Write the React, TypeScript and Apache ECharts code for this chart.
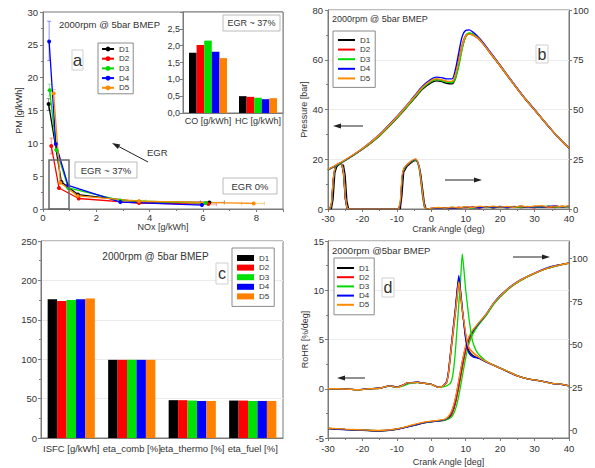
import React, { useEffect, useRef } from 'react';
import * as echarts from 'echarts';

const FONT = "'Liberation Sans', Arial, Helvetica, sans-serif";
const NAMES = ['D1', 'D2', 'D3', 'D4', 'D5'];
const LINE_COLORS = ['#000000', '#ff0000', '#00d800', '#0000ff', '#ff8c00'];
const BAR_COLORS = ['#000000', '#ff0000', '#00e000', '#0000ff', '#ff8000'];

// ---------- Panel a : PM vs NOx ----------
const A_D1 = [[0.21, 16.0], [0.69, 4.1], [1.31, 2.2], [3.6, 1.1], [6.24, 1.0]];
const A_D2 = [[0.31, 9.6], [0.6, 3.2], [1.34, 1.6], [3.6, 0.9], [6.2, 0.75]];
const A_D3 = [[0.25, 18.1], [0.5, 9.0], [0.95, 3.2], [2.9, 1.3], [6.1, 0.9]];
const A_D4 = [[0.23, 25.5], [0.48, 9.9], [0.94, 3.6], [2.9, 1.05], [5.96, 0.6]];
const A_D5 = [[0.4, 17.6], [0.65, 4.0], [1.3, 2.0], [3.6, 1.2], [7.9, 0.85]];
const A_SERIES = [A_D1, A_D2, A_D3, A_D4, A_D5];
const A_X_MAX = 9;
// error bars: [x, yLow, yHigh, seriesIndex] and [y, xLow, xHigh, seriesIndex]
const A_ERR_Y = [[0.23, 22.6, 28.6, 3], [0.25, 17.2, 19.0, 2], [0.21, 15.0, 16.8, 0], [0.31, 8.4, 10.8, 1], [0.4, 17.0, 18.2, 4]];
const A_ERR_X = [[0.85, 7.45, 8.3, 4], [1.0, 5.9, 6.8, 0], [1.2, 3.35, 3.85, 4], [0.75, 5.95, 6.5, 1]];

// inset bars
const INSET_CATS = ['CO [g/kWh]', 'HC [g/kWh]'];
const INSET_D1 = [1.79, 0.5];
const INSET_D2 = [2.02, 0.48];
const INSET_D3 = [2.15, 0.45];
const INSET_D4 = [1.82, 0.41];
const INSET_D5 = [1.63, 0.44];
const INSET_SERIES = [INSET_D1, INSET_D2, INSET_D3, INSET_D4, INSET_D5];

// ---------- Panel b : pressure + injection ----------
const P_ANG = [-30, -25, -20, -15, -10, -7.5, -5, -2.5, 0, 1.5, 3, 4.5, 6, 7, 8, 9, 10, 11, 12, 13.5, 15, 17.5, 20, 22.5, 25, 27.5, 30, 32.5, 35, 37.5, 40];
const P_D1 = [15.7, 19.5, 24, 29.5, 36.5, 40.3, 44.3, 48.2, 50.8, 51.5, 51.2, 50.5, 50.3, 52.5, 58.5, 65, 69.3, 70.3, 70, 68.7, 66.5, 62, 57.5, 52.8, 48.2, 43.8, 39.8, 35.7, 31.6, 27.8, 24.4];
const P_D2 = [15.8, 19.6, 24.1, 29.7, 36.8, 40.6, 44.7, 48.7, 51.4, 52.1, 51.8, 51.2, 51.2, 54, 60, 66.2, 69.8, 70.6, 70.2, 68.8, 66.6, 62.1, 57.6, 52.9, 48.3, 43.9, 39.9, 35.8, 31.7, 27.9, 24.5];
const P_D3 = [15.7, 19.5, 24.1, 29.6, 36.7, 40.5, 44.6, 48.6, 51.3, 52, 51.6, 51, 50.8, 52.5, 57.5, 64.5, 69.5, 70.8, 70.4, 69, 66.8, 62.2, 57.7, 53, 48.4, 44, 40, 35.8, 31.7, 27.9, 24.5];
const P_D4 = [15.8, 19.7, 24.3, 30, 37.2, 41.1, 45.3, 49.4, 52.2, 53, 52.8, 52.3, 52.3, 56, 63, 69.5, 71.8, 72, 71.2, 69.4, 67, 62.4, 57.8, 53.1, 48.5, 44, 40, 35.8, 31.7, 27.9, 24.5];
const P_D5 = [15.9, 19.8, 24.3, 29.9, 37, 40.9, 45, 49, 51.7, 52.4, 52, 51.4, 51.3, 54, 59.5, 65.8, 69.5, 70.3, 70, 68.8, 66.6, 62.1, 57.6, 52.9, 48.3, 43.9, 39.9, 35.8, 31.7, 27.9, 24.5];
const P_SERIES = [P_D1, P_D2, P_D3, P_D4, P_D5];

const I_ANG = [-30, -29.5, -29, -28.5, -28, -27.5, -27, -26.5, -26, -25.5, -25, -24.5, -24, -20, -15, -10, -9.5, -9, -8.5, -8, -7, -6, -5, -4.5, -4, -3.5, -3, -2.5, -2, -1.5, -1, 0, 2, 4, 6, 8, 10, 12, 14, 16, 18, 20, 22, 24, 26, 28, 30, 32, 34, 36, 38, 40];
const I_D1 = [0, 0, 0, 5, 18, 21, 22, 22.5, 22.5, 22, 17, 4, 0, 0, 0, 0, 0, 0, 7, 18.5, 21.5, 23, 24.2, 24.4, 23.6, 21.5, 17, 10, 3, 0, 0, 0.2, 0.4, 0.2, 0.7, 0.4, 0.9, 0.5, 0.8, 1.0, 0.6, 1.1, 0.8, 1.2, 0.7, 1.0, 1.3, 0.9, 1.1, 1.4, 0.9, 1.2];
const I_D2 = [0, 0, 3, 15, 20.5, 22, 22.5, 23, 22.5, 17, 5, 0, 0, 0, 0, 0, 0, 2, 15, 20, 22, 23.5, 24.6, 24.8, 23.8, 20.5, 14, 6, 1, 0, 0, 0.3, 0.3, 0.6, 0.3, 0.9, 0.5, 1.1, 0.4, 1.2, 0.7, 1.0, 0.5, 1.3, 0.8, 1.1, 0.6, 1.4, 1.0, 0.7, 1.5, 1.0];
const I_D3 = [0, 0, 2, 14, 20.5, 22, 22.5, 22.8, 22.4, 18, 6, 0.5, 0, 0, 0, 0, 0, 3, 16, 20.2, 22.2, 23.6, 24.5, 24.6, 23.5, 20, 13.5, 5.5, 0.8, 0, 0, 0.2, 0.5, 0.3, 0.8, 0.6, 0.9, 0.4, 1.1, 0.7, 1.0, 1.2, 0.6, 1.1, 0.9, 1.3, 0.8, 1.2, 1.5, 0.9, 1.3, 1.1];
const I_D4 = [0, 0, 2.5, 14.5, 20.8, 22.2, 22.6, 23, 22.6, 18, 5.5, 0.3, 0, 0, 0, 0, 0, 2.5, 15.5, 20.3, 22.3, 23.8, 24.8, 25, 24, 21, 15, 7, 1.5, 0, 0, 0.3, 0.6, 0.4, 0.7, 0.5, 1.0, 0.8, 0.6, 1.2, 0.9, 1.3, 0.7, 1.0, 1.4, 0.8, 1.2, 1.0, 1.3, 1.6, 1.0, 1.4];
const I_D5 = [0, 0, 3, 15, 21, 22.5, 23, 23, 22.5, 18.5, 6.5, 0.5, 0, 0, 0, 0, 0, 4, 17, 20.5, 22.5, 24, 25, 25.2, 24.2, 21, 15, 7.5, 1.5, 0, 0, 0.4, 0.8, 0.4, 1.0, 0.6, 1.2, 0.7, 1.4, 0.9, 1.5, 1.0, 1.3, 0.8, 1.6, 1.1, 1.4, 1.7, 1.0, 1.5, 1.2, 1.6];
const I_SERIES = [I_D1, I_D2, I_D3, I_D4, I_D5];

// ---------- Panel c : ISFC / efficiencies ----------
const C_CATS = ['ISFC [g/kWh]', 'eta_comb [%]', 'eta_thermo [%]', 'eta_fuel [%]'];
const C_D1 = [176, 99.2, 48, 47.5];
const C_D2 = [174, 99.2, 48, 47.5];
const C_D3 = [175, 99.2, 47.5, 47];
const C_D4 = [176, 99.2, 47, 47];
const C_D5 = [177, 99.2, 47, 47];
const C_SERIES = [C_D1, C_D2, C_D3, C_D4, C_D5];

// ---------- Panel d : RoHR + cumulative ----------
const R_ANG = [-30, -27, -24, -21, -18, -15, -13, -12, -10, -8, -7, -6, -4, -2, 0, 1, 2, 3, 4, 4.5, 5, 5.5, 6, 6.5, 7, 7.5, 8, 8.5, 9, 9.5, 10, 10.5, 11, 12, 13, 14, 16, 18, 20, 22, 25, 28, 30, 33, 35, 38, 40];
const R_D1 = [0, 0, -0.04, -0.09, 0, 0.06, 0.24, 0.3, 0.16, 0.4, 0.6, 0.62, 0.66, 0.56, 0.45, 0.3, 0.16, 0.2, 0.48, 0.75, 1.7, 3.3, 4.9, 6.5, 8.0, 9.8, 11.2, 9.8, 8.1, 6.6, 5.2, 4.3, 3.8, 3.4, 3.2, 3.1, 2.72, 2.4, 2.1, 1.78, 1.3, 1.0, 0.9, 0.7, 0.55, 0.44, 0.3];
const R_D2 = [0, 0, -0.05, -0.1, 0, 0.05, 0.25, 0.3, 0.15, 0.42, 0.6, 0.6, 0.64, 0.55, 0.45, 0.3, 0.15, 0.2, 0.42, 0.65, 1.5, 3.0, 4.6, 6.1, 7.6, 9.2, 10.7, 9.5, 7.9, 6.7, 5.5, 4.6, 4.1, 3.7, 3.4, 3.15, 2.75, 2.4, 2.1, 1.8, 1.3, 1.0, 0.9, 0.7, 0.55, 0.45, 0.3];
const R_D3 = [0, 0, -0.05, -0.1, 0, 0.05, 0.22, 0.28, 0.12, 0.3, 0.45, 0.55, 0.62, 0.55, 0.45, 0.3, 0.15, 0.18, 0.25, 0.3, 0.4, 0.55, 0.95, 2.0, 3.8, 6.2, 8.6, 11.0, 13.7, 12.0, 10.0, 8.5, 7.0, 4.8, 3.9, 3.4, 2.8, 2.42, 2.1, 1.8, 1.3, 1.0, 0.9, 0.7, 0.55, 0.45, 0.3];
const R_D4 = [0, -0.02, -0.05, -0.08, 0, 0.08, 0.22, 0.28, 0.18, 0.38, 0.58, 0.62, 0.66, 0.55, 0.44, 0.3, 0.15, 0.2, 0.5, 0.8, 1.8, 3.4, 5.0, 6.6, 8.2, 10.0, 11.5, 10.0, 8.2, 6.5, 5.0, 4.1, 3.6, 3.25, 3.15, 3.05, 2.7, 2.4, 2.1, 1.75, 1.3, 1.0, 0.88, 0.72, 0.55, 0.42, 0.3];
const R_D5 = [0, 0, -0.05, -0.1, 0, 0.05, 0.25, 0.3, 0.15, 0.4, 0.6, 0.6, 0.65, 0.55, 0.45, 0.3, 0.15, 0.2, 0.45, 0.7, 1.6, 3.2, 4.8, 6.3, 7.8, 9.4, 10.9, 9.6, 8.0, 6.8, 5.6, 4.6, 4.1, 3.7, 3.4, 3.15, 2.75, 2.4, 2.1, 1.8, 1.3, 1.0, 0.9, 0.7, 0.55, 0.45, 0.3];
const R_SERIES = [R_D1, R_D2, R_D3, R_D4, R_D5];

const CUM_ANG = [-30, -25, -20, -15, -10, -5, -2, 0, 2, 4, 5, 6, 7, 8, 9, 10, 11, 12, 13, 14, 16, 18, 20, 23, 26, 30, 34, 37, 40];
const CUM_D1 = [0.8, 0.2, -0.2, -0.6, 0.4, 2.7, 4.2, 4.8, 5.2, 5.8, 6.8, 9.5, 16, 26.5, 37.5, 47, 53, 57, 60, 62.5, 67.3, 73.2, 77.7, 83.1, 87.1, 91.1, 94.2, 95.8, 97];
const CUM_D2 = [1.0, 0.4, 0, -0.4, 0.6, 3.0, 4.4, 5.0, 5.4, 6.0, 7.0, 9.5, 15.5, 25, 36, 46, 52.5, 56.5, 59.5, 62, 67, 73, 77.5, 83, 87, 91, 94.2, 95.8, 97];
const CUM_D3 = [1.0, 0.4, 0, -0.4, 0.5, 2.9, 4.3, 4.9, 5.3, 5.8, 6.4, 7.8, 12, 20, 31, 42, 50.5, 55.5, 59, 61.8, 66.8, 72.8, 77.4, 83, 87, 91, 94.2, 95.8, 97];
const CUM_D4 = [0.9, 0.3, -0.1, -0.5, 0.5, 2.8, 4.3, 4.9, 5.3, 6.1, 7.5, 11, 18, 28.5, 39.5, 48.5, 54, 57.5, 60, 62.5, 67.5, 73.5, 78.2, 83.5, 87.5, 91.3, 94.5, 96, 97.2];
const CUM_D5 = [1.1, 0.5, 0.1, -0.3, 0.7, 3.2, 4.6, 5.2, 5.6, 6.4, 8.0, 11.5, 18.5, 29, 40, 49, 54.5, 58, 60.5, 63, 67.5, 73.5, 78, 83.3, 87.3, 91.2, 94.3, 95.9, 97.1];
const CUM_SERIES = [CUM_D1, CUM_D2, CUM_D3, CUM_D4, CUM_D5];

// ---------- helpers ----------
const AXIS_COLOR = '#7a7a7a';
const LABEL_COLOR = '#333';

function valueAxis(o: any) {
  return {
    type: 'value',
    gridIndex: o.grid,
    position: o.position,
    min: o.min,
    max: o.max,
    interval: o.interval,
    show: o.show !== false,
    name: o.name,
    nameLocation: 'middle',
    nameGap: o.nameGap,
    nameTextStyle: { fontSize: 9, color: LABEL_COLOR, fontFamily: FONT },
    axisLine: { show: o.line !== false, onZero: false, lineStyle: { color: AXIS_COLOR, width: 1 } },
    axisTick: { show: o.tick !== false, length: 3, lineStyle: { color: AXIS_COLOR } },
    minorTick: { show: !!o.minor, splitNumber: 2, length: 2, lineStyle: { color: AXIS_COLOR } },
    axisLabel: {
      show: o.label !== false,
      fontSize: o.fontSize || 9.5,
      color: LABEL_COLOR,
      fontFamily: FONT,
      margin: o.margin ?? 4,
      formatter: o.formatter,
    },
    splitLine: { show: !!o.split, lineStyle: { color: '#ececec', width: 1 } },
  };
}

function arrow(x1: number, y1: number, x2: number, y2: number) {
  const dx = x2 - x1;
  const dy = y2 - y1;
  const len = Math.sqrt(dx * dx + dy * dy);
  const ux = dx / len;
  const uy = dy / len;
  const bx = x2 - ux * 8;
  const by = y2 - uy * 8;
  const px = -uy * 2.6;
  const py = ux * 2.6;
  return [
    { type: 'line', z: 100, shape: { x1, y1, x2: bx, y2: by }, style: { stroke: '#222', lineWidth: 1 } },
    { type: 'polygon', z: 100, shape: { points: [[x2, y2], [bx + px, by + py], [bx - px, by - py]] }, style: { fill: '#222' } },
  ];
}

function label(text: string, x: number, y: number, size: number, align = 'left') {
  return {
    type: 'text', z: 101, x, y,
    style: { text, fontSize: size, fontFamily: FONT, fill: '#333', align, textAlign: align, verticalAlign: 'middle', textVerticalAlign: 'middle' },
  };
}

function boxed(text: string, x: number, y: number, w: number, h: number, size: number, stroke = '#bbb') {
  return [
    { type: 'rect', z: 100, shape: { x, y, width: w, height: h }, style: { fill: '#fff', stroke, lineWidth: 1 } },
    label(text, x + w / 2, y + h / 2, size, 'center'),
  ];
}

function legend(suffix: string, left: number, top: number, o: any) {
  return {
    show: true,
    orient: 'vertical',
    left, top,
    data: NAMES.map((n) => (o.icon ? { name: `${n}_${suffix}`, icon: o.icon } : `${n}_${suffix}`)),
    formatter: (n: string) => n.split('_')[0],
    itemWidth: o.itemWidth,
    itemHeight: o.itemHeight,
    itemGap: o.itemGap,
    padding: o.padding,
    borderColor: '#8a8a8a',
    borderWidth: 1,
    backgroundColor: '#fff',
    selectedMode: false,
    textStyle: { fontSize: 8, color: '#333', fontFamily: FONT },
    z: 50,
  };
}

const GRID_BASE = { show: true, borderColor: AXIS_COLOR, borderWidth: 1, containLabel: false };

function errY(params: any, api: any) {
  const x = api.value(0);
  const p1 = api.coord([x, api.value(1)]);
  const p2 = api.coord([x, api.value(2)]);
  const c = LINE_COLORS[api.value(3)];
  const st = { stroke: c, lineWidth: 0.8, opacity: 0.55 };
  return {
    type: 'group',
    children: [
      { type: 'line', shape: { x1: p1[0], y1: p1[1], x2: p2[0], y2: p2[1] }, style: st },
      { type: 'line', shape: { x1: p1[0] - 2, y1: p1[1], x2: p1[0] + 2, y2: p1[1] }, style: st },
      { type: 'line', shape: { x1: p2[0] - 2, y1: p2[1], x2: p2[0] + 2, y2: p2[1] }, style: st },
    ],
  };
}

function errX(params: any, api: any) {
  const y = api.value(0);
  const p1 = api.coord([api.value(1), y]);
  const p2 = api.coord([api.value(2), y]);
  const c = LINE_COLORS[api.value(3)];
  const st = { stroke: c, lineWidth: 0.8, opacity: 0.55 };
  return {
    type: 'group',
    children: [
      { type: 'line', shape: { x1: p1[0], y1: p1[1], x2: p2[0], y2: p2[1] }, style: st },
      { type: 'line', shape: { x1: p1[0], y1: p1[1] - 2, x2: p1[0], y2: p1[1] + 2 }, style: st },
      { type: 'line', shape: { x1: p2[0], y1: p2[1] - 2, x2: p2[0], y2: p2[1] + 2 }, style: st },
    ],
  };
}

function buildOption() {
  const series: any[] = [];
  // panel a
  series.push({
    type: 'custom', name: 'errY', xAxisIndex: 0, yAxisIndex: 0, z: 1, silent: true,
    data: A_ERR_Y, renderItem: errY,
    encode: { x: 0, y: [1, 2] },
  });
  series.push({
    type: 'custom', name: 'errX', xAxisIndex: 0, yAxisIndex: 0, z: 1, silent: true,
    data: A_ERR_X, renderItem: errX,
    encode: { y: 0, x: [1, 2] },
  });
  A_SERIES.forEach((d, i) => {
    series.push({
      type: 'line', name: `${NAMES[i]}_a`, xAxisIndex: 0, yAxisIndex: 0, data: d,
      symbol: 'circle', symbolSize: 4, color: LINE_COLORS[i],
      lineStyle: { width: 1.3, color: LINE_COLORS[i] }, itemStyle: { color: LINE_COLORS[i] },
    });
  });
  INSET_SERIES.forEach((d, i) => {
    series.push({
      type: 'bar', name: `${NAMES[i]}_i`, xAxisIndex: 1, yAxisIndex: 1, data: d,
      barGap: '0%', barCategoryGap: '24%', itemStyle: { color: BAR_COLORS[i] },
    });
  });
  // panel b
  I_SERIES.forEach((d, i) => {
    series.push({
      type: 'line', name: `${NAMES[i]}_bi`, xAxisIndex: 2, yAxisIndex: 3,
      data: I_ANG.map((a, k) => [a, d[k]]), symbol: 'none', color: LINE_COLORS[i],
      lineStyle: { width: 1.2, color: LINE_COLORS[i] },
    });
  });
  P_SERIES.forEach((d, i) => {
    series.push({
      type: 'line', name: `${NAMES[i]}_b`, xAxisIndex: 2, yAxisIndex: 2,
      data: P_ANG.map((a, k) => [a, d[k]]), symbol: 'none', smooth: 0.3, color: LINE_COLORS[i],
      lineStyle: { width: 1.4, color: LINE_COLORS[i] },
    });
  });
  // panel c
  C_SERIES.forEach((d, i) => {
    series.push({
      type: 'bar', name: `${NAMES[i]}_c`, xAxisIndex: 3, yAxisIndex: 4, data: d,
      barGap: '0%', barCategoryGap: '22%', itemStyle: { color: BAR_COLORS[i] },
    });
  });
  // panel d
  CUM_SERIES.forEach((d, i) => {
    series.push({
      type: 'line', name: `${NAMES[i]}_dc`, xAxisIndex: 4, yAxisIndex: 6,
      data: CUM_ANG.map((a, k) => [a, d[k]]), symbol: 'none', smooth: 0.3, color: LINE_COLORS[i],
      lineStyle: { width: 1.3, color: LINE_COLORS[i] },
    });
  });
  R_SERIES.forEach((d, i) => {
    series.push({
      type: 'line', name: `${NAMES[i]}_d`, xAxisIndex: 4, yAxisIndex: 5,
      data: R_ANG.map((a, k) => [a, d[k]]), symbol: 'none', smooth: 0.2, color: LINE_COLORS[i],
      lineStyle: { width: 1.3, color: LINE_COLORS[i] },
    });
  });

  const graphic: any[] = [
    // panel a
    label('2000rpm @ 5bar BMEP', 59, 24, 9.5),
    ...boxed('a', 72, 50, 11, 20, 17, '#cfcfcf'),
    { type: 'rect', z: 99, shape: { x: 49, y: 160, width: 20, height: 49 }, style: { fill: 'none', stroke: '#666', lineWidth: 1.5 } },
    ...boxed('EGR ~ 37%', 75, 162, 62, 16, 9.5),
    ...boxed('EGR ~ 37%', 223, 15, 57, 16, 9),
    ...boxed('EGR 0%', 223, 178, 54, 16, 9.5),
    ...arrow(148, 162, 112, 143),
    label('EGR', 147, 152, 9.5),
    // panel b
    label('2000rpm @ 5bar BMEP', 332, 19, 9),
    ...boxed('b', 536, 45, 12, 18, 16, '#cfcfcf'),
    ...arrow(363, 126, 333, 126),
    ...arrow(445, 180, 482, 180),
    // panel c
    label('2000rpm @ 5bar BMEP', 155.5, 256, 10, 'center'),
    ...boxed('c', 216, 263, 12, 21, 16, '#cfcfcf'),
    // panel d
    label('2000rpm @5bar BMEP', 332, 250, 9.5),
    ...boxed('d', 382, 278, 12, 19, 16, '#cfcfcf'),
    ...arrow(365, 378, 337, 378),
    ...arrow(513, 257, 550, 257),
  ];

  return {
    animation: false,
    backgroundColor: '#fff',
    textStyle: { fontFamily: FONT },
    grid: [
      { ...GRID_BASE, left: 43, top: 12, width: 240, height: 197 },
      { ...GRID_BASE, left: 183, top: 12, width: 100, height: 101, backgroundColor: '#fff' },
      { ...GRID_BASE, left: 328, top: 10, width: 241, height: 199 },
      { ...GRID_BASE, left: 41, top: 241, width: 242, height: 197 },
      { ...GRID_BASE, left: 328, top: 241, width: 241, height: 197 },
      { show: false, left: 328, top: 258, width: 241, height: 172 },
    ],
    xAxis: [
      valueAxis({ grid: 0, min: 0, max: A_X_MAX, interval: 2, minor: true, margin: 3, name: 'NOx [g/kWh]', nameGap: 13,
        formatter: (v: number) => (v % 2 === 0 ? String(v) : '') }),
      {
        type: 'category', gridIndex: 1, data: INSET_CATS,
        axisLine: { lineStyle: { color: AXIS_COLOR } }, axisTick: { show: false },
        axisLabel: { fontSize: 9, color: LABEL_COLOR, fontFamily: FONT, margin: 3, interval: 0 },
      },
      valueAxis({ grid: 2, min: -30, max: 40, interval: 10, minor: true, margin: 4, name: 'Crank Angle (deg)', nameGap: 15 }),
      {
        type: 'category', gridIndex: 3, data: C_CATS,
        axisLine: { lineStyle: { color: AXIS_COLOR } }, axisTick: { show: false },
        axisLabel: { fontSize: 9.5, color: LABEL_COLOR, fontFamily: FONT, margin: 5, interval: 0 },
      },
      valueAxis({ grid: 4, min: -30, max: 40, interval: 10, minor: true, margin: 5, name: 'Crank Angle [deg]', nameGap: 19 }),
      valueAxis({ grid: 5, min: -30, max: 40, show: false }),
    ],
    yAxis: [
      valueAxis({ grid: 0, min: 0, max: 30, interval: 5, minor: true, margin: 5, name: 'PM [g/kWh]', nameGap: 20 }),
      valueAxis({ grid: 1, min: 0, max: 3, interval: 0.5, margin: 3, fontSize: 9,
        formatter: (v: number) => (v > 2.9 ? '' : v.toFixed(1).replace('.', ',')) }),
      valueAxis({ grid: 2, min: 0, max: 80, interval: 20, minor: true, split: true, margin: 5, name: 'Pressure [bar]', nameGap: 19 }),
      valueAxis({ grid: 2, position: 'right', min: 0, max: 100, interval: 25, margin: 4 }),
      valueAxis({ grid: 3, min: 0, max: 250, interval: 50, minor: true, split: true, margin: 4 }),
      valueAxis({ grid: 4, min: -5, max: 15, interval: 5, minor: true, split: true, margin: 4, name: 'RoHR [%/deg]', nameGap: 19 }),
      valueAxis({ grid: 4, position: 'right', min: -4.65, max: 109.9, label: false, tick: false }),
      valueAxis({ grid: 5, position: 'right', min: 0, max: 100, interval: 25, line: false, margin: 3 }),
    ],
    legend: [
      legend('a', 98, 43, { itemWidth: 12, itemHeight: 6, itemGap: 1.7, padding: [2, 4, 2, 3] }),
      legend('b', 333, 31, { icon: 'rect', itemWidth: 17, itemHeight: 2, itemGap: 1.6, padding: [5, 5, 5, 5] }),
      legend('c', 232, 248, { icon: 'rect', itemWidth: 17, itemHeight: 6, itemGap: 1.6, padding: [6, 5, 6, 5] }),
      legend('d', 334, 258, { icon: 'rect', itemWidth: 17, itemHeight: 2, itemGap: 1.2, padding: [6, 5, 6, 3] }),
    ],
    series,
    graphic,
  };
}

export default function App() {
  const ref = useRef<HTMLDivElement>(null);
  useEffect(() => {
    if (!ref.current) return;
    const chart = echarts.init(ref.current, null, { renderer: 'svg' });
    chart.setOption(buildOption() as any);
    return () => chart.dispose();
  }, []);
  return (
    <div
      ref={ref}
      style={{ position: 'fixed', left: 0, top: 0, width: 595, height: 468, background: '#fff' }}
    />
  );
}
